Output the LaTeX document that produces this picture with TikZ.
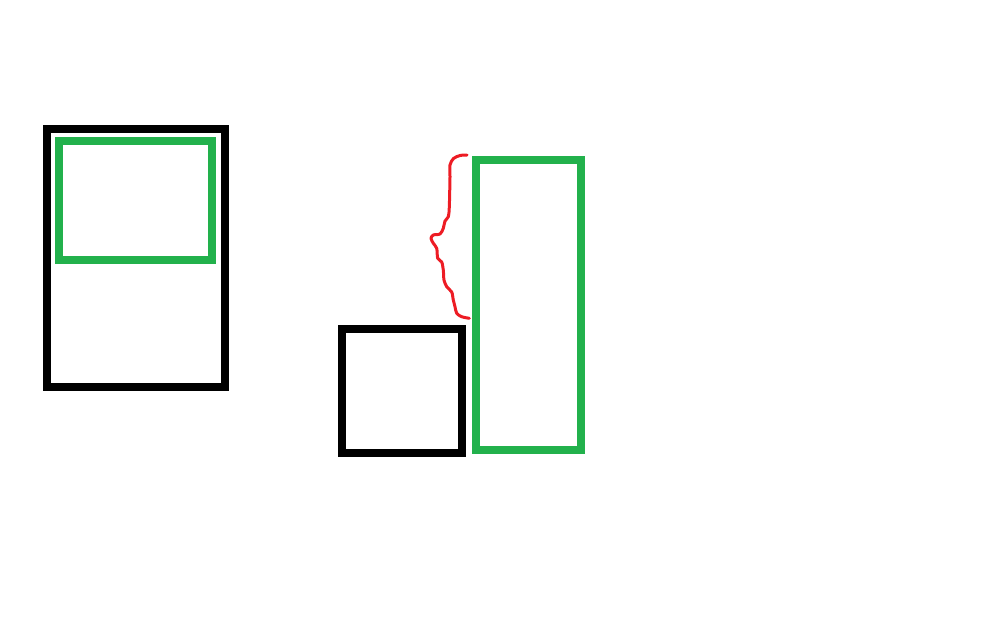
\documentclass[tikz,border=0pt]{standalone}
\usepackage{tikz}
\usetikzlibrary{calc}
\definecolor{paintgreen}{RGB}{34,177,76}
\definecolor{paintred}{RGB}{237,28,36}
\begin{document}
\begin{tikzpicture}[x=1pt, y=-1pt]

	\def\w{8pt};
	\useasboundingbox (0,0) rectangle (985,626);

	%boxes
	\draw[line width=\w, black] (47,129) rectangle (225,387);
	\draw[line width=\w, paintgreen] (59,141) rectangle (212,260);
	\draw[line width=\w, black] (342,329) rectangle (462,453);
	\draw[line width=\w, paintgreen] (476,160) rectangle (581,450);

	%brace
	\draw[paintred, line width=3pt, line cap=round, line join=round]
	  plot[smooth, tension=0.5] coordinates {(467,155) (460,155.5) (453.5,158.5) (450,165) (450,177)
	  (449.3,207) (448.3,216.7) (445,221) (443.3,228.3) (440,234) (433.3,235) (431,238.3)
	  (433.3,243.3) (436.7,248.3) (437.7,258.3) (441.7,262) (443.3,270) (444,280)
	  (446.7,286.7) (451.7,292) (453.3,300) (455,306.7) (456.7,313.3) (461.7,316.7) (469.3,318.3)};

\end{tikzpicture}
\end{document}
